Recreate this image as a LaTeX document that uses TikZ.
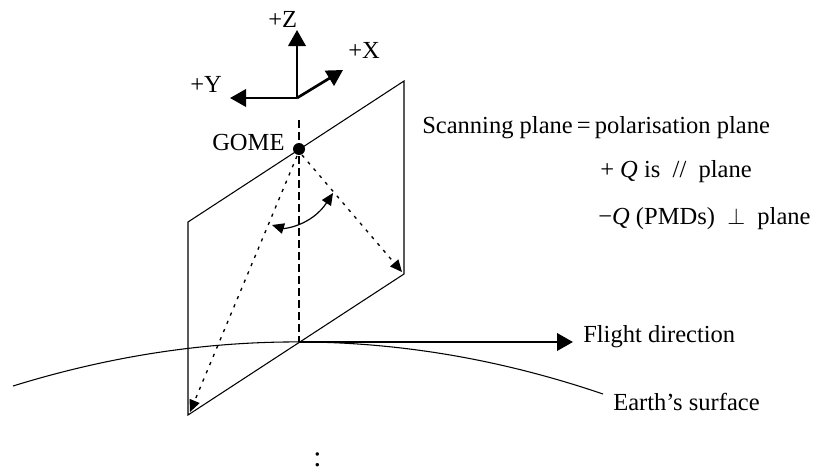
\documentclass[tikz,border=0pt]{standalone}
\usepackage{fontspec}
\setmainfont{Liberation Serif}
\usetikzlibrary{arrows.meta}
\begin{document}
\begin{tikzpicture}[x={(0.75pt,0)},y={(0,-0.75pt)},
  every node/.style={inner sep=0pt,font=\fontsize{18.4}{21}\selectfont},
  lbl/.style={anchor=base west},
  axisarrow/.style={line width=2pt,-{Triangle[length=12pt,width=13pt]}},
  planeedge/.style={line width=0.8pt,line join=miter},
  nadirline/.style={line width=0.9pt,dash pattern=on 6pt off 3pt},
  rayarrow/.style={line width=1pt,dash pattern=on 2.4pt off 4.3pt,-{Triangle[length=9pt,width=8pt]}},
  anglearrow/.style={line width=0.9pt,{Triangle[length=9pt,width=8pt]}-{Triangle[length=9pt,width=8pt]}},
  earth/.style={line width=0.8pt}]
\useasboundingbox (0,0) rectangle (823,471);
% coordinates
\coordinate (O) at (297,98);
\coordinate (Ztip) at (297,30);
\coordinate (Ytip) at (230,98);
\coordinate (Xtip) at (343,70);
\coordinate (A) at (188,222);
\coordinate (B) at (404,81);
\coordinate (C) at (404,274);
\coordinate (D) at (188,415);
\coordinate (N) at (299,342);
\coordinate (Ntop) at (299,120);
\coordinate (Ftip) at (573,342);
\coordinate (E0) at (13,386);
\coordinate (E1) at (603,394);
\coordinate (CR) at (402,272);
\coordinate (DL) at (190,412);
\coordinate (AL) at (272,225);
\coordinate (AR) at (333,193);
% axes
\draw[axisarrow] (O) -- (Ztip);
\draw[axisarrow] (O) -- (Ytip);
\draw[axisarrow] (O) -- (Xtip);
\node[lbl] (zl) at (268,27) {+Z};
\node[lbl] (xl) at (348,58) {+X};
\node[lbl] (yl) at (190,92) {+Y};
% plane
\draw[planeedge] (D) -- (A) -- (B) -- (C) -- cycle;
% earth surface
\draw[earth] (E0) .. controls (210,325) and (406,327) .. (E1);
% nadir
\draw[nadirline] (Ntop) -- (N);
% GOME
\fill (299,149) circle (4.5pt) coordinate (G);
\node[lbl] (gome) at (212,150) {GOME};
% rays
\draw[rayarrow] ([shift={(3,6)}]G) -- (CR);
\draw[rayarrow] ([shift={(-2,7)}]G) -- (DL);
% angle arrow
\draw[anglearrow] (AL) .. controls (285,229) and (312,225) .. (AR);
% flight direction
\draw[axisarrow] (N) -- (Ftip);
\node[lbl] (fd) at (583,342) {Flight direction};
\node[lbl] (es) at (613,410) {Earth’s surface};
% text
\node[lbl] (t1) at (422,133) {Scanning plane\,=\,polarisation plane};
\node[lbl] (t2) at (600,177) {+ \textit{Q} is \ // \ plane};
\node[lbl] (t3) at (598,224) {−\textit{Q} (PMDs) \ $\perp$ \ plane};
\node[lbl,font=\fontsize{22}{24}\selectfont] (colon) at (313,466) {:};
\end{tikzpicture}
\end{document}
